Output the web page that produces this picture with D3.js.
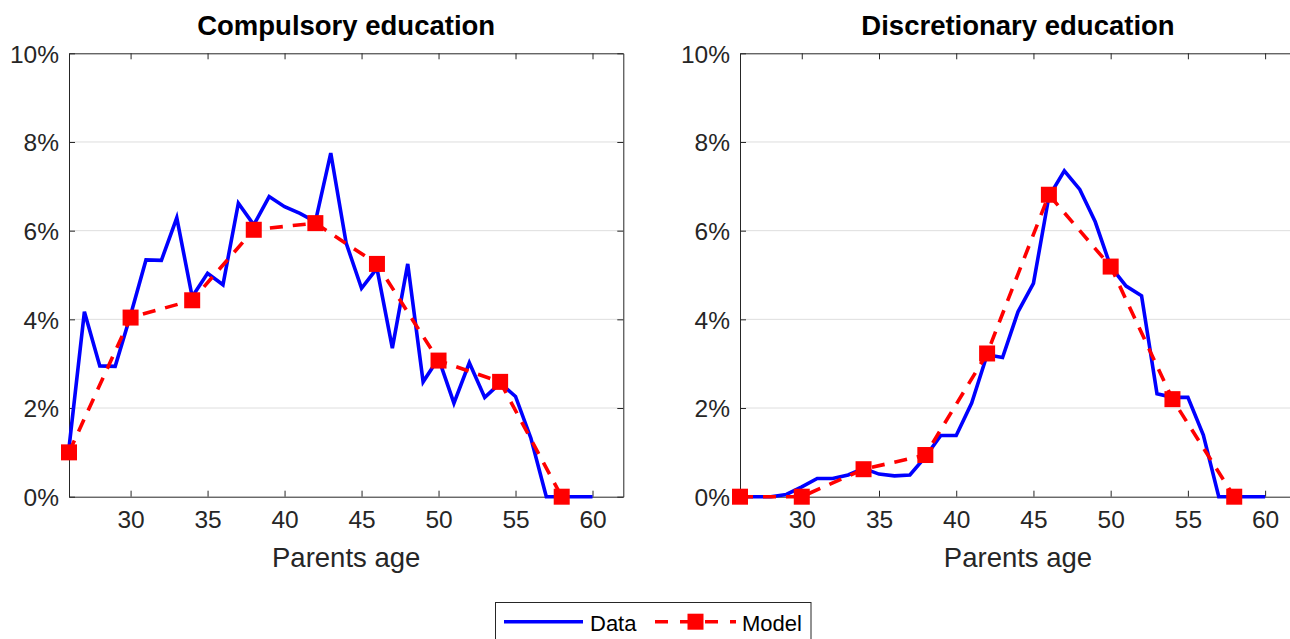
<!DOCTYPE html>
<html>
<head>
<meta charset="utf-8">
<script src="https://cdn.jsdelivr.net/npm/d3@7"></script>
<style>
  html, body { margin: 0; padding: 0; background: #fff; }
  svg { display: block; font-family: "Liberation Sans", Arial, Helvetica, sans-serif; }
</style>
</head>
<body>
<svg id="chart" width="1290" height="639"></svg>
<script>
// ---- data ----
const ages = [26,27,28,29,30,31,32,33,34,35,36,37,38,39,40,41,42,43,44,45,46,47,48,49,50,51,52,53,54,55,56,57,58,59,60];
const compulsoryData = [1.1,4.17,2.95,2.94,4.1,5.34,5.33,6.29,4.51,5.04,4.78,6.62,6.13,6.77,6.54,6.39,6.2,7.75,5.72,4.70,5.15,3.35,5.25,2.59,3.12,2.11,3.02,2.24,2.56,2.26,1.32,0,0,0,0];
const discretionaryData = [0,0,0,0.05,0.22,0.41,0.41,0.49,0.64,0.51,0.47,0.49,0.9,1.38,1.38,2.11,3.2,3.14,4.17,4.81,6.77,7.35,6.93,6.2,5.19,4.75,4.53,2.32,2.24,2.24,1.39,0,0,0,0];
const modelAges = [26,30,34,38,42,46,50,54,58];
const compulsoryModel = [1.0,4.04,4.43,6.02,6.17,5.25,3.07,2.59,0];
const discretionaryModel = [0,0,0.62,0.94,3.23,6.81,5.19,2.2,0];
const xTicks = [30,35,40,45,50,55,60];
const yTicks = [0,2,4,6,8,10];
const titles = ["Compulsory education", "Discretionary education"];
const xLabel = "Parents age";
const legendLabels = ["Data", "Model"];

// ---- drawing ----
const svg = d3.select("#chart");
const axisColor = "#262626";
const gridColor = "#dedede";
const blue = "#0000ff", red = "#ff0000";

const panels = [
  {x0: 69, x1: 623.3, title: titles[0], data: compulsoryData, model: compulsoryModel},
  {x0: 740, x1: 1296, title: titles[1], data: discretionaryData, model: discretionaryModel}
];
const yTop = 53.3, yBot = 496.7;

panels.forEach(p => {
  const x = d3.scaleLinear().domain([26, 62]).range([p.x0, p.x1]);
  const y = d3.scaleLinear().domain([0, 10]).range([yBot, yTop]);
  const g = svg.append("g");

  // grid
  g.append("g").selectAll("line").data(yTicks.filter(v => v > 0 && v < 10)).join("line")
    .attr("x1", p.x0).attr("x2", p.x1)
    .attr("y1", d => y(d)).attr("y2", d => y(d))
    .attr("stroke", gridColor).attr("stroke-width", 1);

  // axes with D3 axis generators (ticks inward)
  const tickLen = 6;
  const xAxisB = d3.axisBottom(x).tickValues(xTicks).tickSizeInner(-tickLen).tickSizeOuter(0).tickPadding(14).tickFormat(d3.format("d"));
  const xAxisT = d3.axisTop(x).tickValues(xTicks).tickSizeInner(-tickLen).tickSizeOuter(0).tickFormat("");
  const yAxisL = d3.axisLeft(y).tickValues(yTicks).tickSizeInner(-tickLen).tickSizeOuter(0).tickPadding(10).tickFormat(d => d + "%");
  const yAxisR = d3.axisRight(y).tickValues(yTicks).tickSizeInner(-tickLen).tickSizeOuter(0).tickFormat("");

  const styleAxis = sel => {
    sel.selectAll("path").attr("stroke", axisColor).attr("stroke-width", 1);
    sel.selectAll("line").attr("stroke", axisColor).attr("stroke-width", 1);
    sel.selectAll("text").attr("fill", axisColor).attr("font-size", 24.5)
      .attr("font-family", "Liberation Sans, Arial, Helvetica, sans-serif");
  };
  g.append("g").attr("transform", `translate(0,${yBot})`).call(xAxisB).call(styleAxis)
    .selectAll("text").attr("dy", "0.71em");
  g.append("g").attr("transform", `translate(0,${yTop})`).call(xAxisT).call(styleAxis);
  g.append("g").attr("transform", `translate(${p.x0},0)`).call(yAxisL).call(styleAxis)
    .selectAll("text").attr("dy", "0.36em");
  g.append("g").attr("transform", `translate(${p.x1},0)`).call(yAxisR).call(styleAxis);

  // title
  g.append("text").attr("x", (p.x0 + p.x1) / 2).attr("y", 35)
    .attr("text-anchor", "middle").attr("font-weight", "bold").attr("font-size", 27.5)
    .attr("fill", "#000").text(p.title);
  // x label
  g.append("text").attr("x", (p.x0 + p.x1) / 2).attr("y", 567)
    .attr("text-anchor", "middle").attr("font-size", 27.5)
    .attr("fill", axisColor).text(xLabel);

  // data line
  const line = d3.line().x(d => x(d[0])).y(d => y(d[1]));
  g.append("path").datum(ages.map((a, i) => [a, p.data[i]]))
    .attr("d", line).attr("fill", "none").attr("stroke", blue).attr("stroke-width", 3.6);
  // model line
  const mpts = modelAges.map((a, i) => [a, p.model[i]]);
  g.append("path").datum(mpts)
    .attr("d", line).attr("fill", "none").attr("stroke", red).attr("stroke-width", 3.6)
    .attr("stroke-dasharray", "13,10");
  const ms = 16;
  g.append("g").selectAll("rect").data(mpts).join("rect")
    .attr("x", d => x(d[0]) - ms / 2).attr("y", d => y(d[1]) - ms / 2)
    .attr("width", ms).attr("height", ms).attr("fill", red);
});

// legend
const lg = svg.append("g");
lg.append("rect").attr("x", 495.5).attr("y", 602.5).attr("width", 315.5).attr("height", 50)
  .attr("fill", "#fff").attr("stroke", axisColor).attr("stroke-width", 1);
lg.append("line").attr("x1", 504).attr("x2", 583).attr("y1", 621.7).attr("y2", 621.7)
  .attr("stroke", blue).attr("stroke-width", 3.6);
lg.append("text").attr("x", 590).attr("y", 630.5).attr("font-size", 22).attr("fill", "#000").text(legendLabels[0]);
lg.append("line").attr("x1", 655).attr("x2", 736).attr("y1", 621.7).attr("y2", 621.7)
  .attr("stroke", red).attr("stroke-width", 3.6).attr("stroke-dasharray", "13,12");
lg.append("rect").attr("x", 695.5 - 8).attr("y", 621.7 - 8).attr("width", 16).attr("height", 16).attr("fill", red);
lg.append("text").attr("x", 742).attr("y", 630.5).attr("font-size", 22).attr("fill", "#000").text(legendLabels[1]);
</script>
</body>
</html>
